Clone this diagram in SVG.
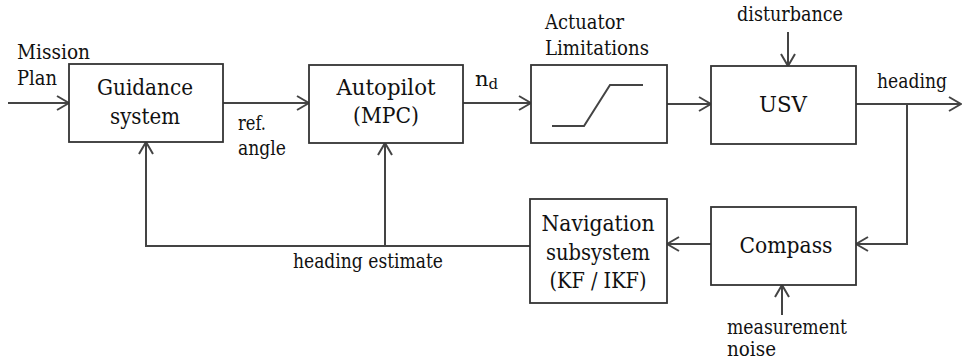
<svg xmlns="http://www.w3.org/2000/svg" width="963" height="363" viewBox="0 0 963 363">
<style>
.box{fill:#fff;stroke:#333;stroke-width:1.8}
.ln{fill:none;stroke:#444;stroke-width:2}
.bt{font-family:"DejaVu Serif","Liberation Serif",serif;font-size:23px;fill:#111;text-anchor:middle}
.lb{font-family:"DejaVu Serif","Liberation Serif",serif;font-size:21px;fill:#111}
.nz{font-size:20px}
</style>
<defs>
<marker id="ah" viewBox="0 0 14 16" refX="13" refY="8" markerWidth="14" markerHeight="16" markerUnits="userSpaceOnUse" orient="auto">
<path d="M1,1 L13,8 L1,15" fill="none" stroke="#444" stroke-width="2"/>
</marker>
</defs>
<rect width="963" height="363" fill="#fff"/>
<g id="connectors">
<path class="ln" d="M8,103 H69" marker-end="url(#ah)"/>
<path class="ln" d="M223,103 H309" marker-end="url(#ah)"/>
<path class="ln" d="M463,103 H531" marker-end="url(#ah)"/>
<path class="ln" d="M667,104 H711" marker-end="url(#ah)"/>
<path class="ln" d="M856,104 H961" marker-end="url(#ah)"/>
<path class="ln" d="M907,104 V244 H856" marker-end="url(#ah)"/>
<path class="ln" d="M711,244 H667" marker-end="url(#ah)"/>
<path class="ln" d="M530,246 H146 V142" marker-end="url(#ah)"/>
<path class="ln" d="M385,246 V143" marker-end="url(#ah)"/>
<path class="ln" d="M788,32 V66" marker-end="url(#ah)"/>
<path class="ln" d="M782,315 V285" marker-end="url(#ah)"/>
</g>
<g id="guidance">
<rect class="box" x="69" y="64" width="154" height="78"/>
<text class="bt" x="145" y="95" textLength="96" lengthAdjust="spacingAndGlyphs">Guidance</text>
<text class="bt" x="145" y="124" textLength="70" lengthAdjust="spacingAndGlyphs">system</text>
</g>
<g id="autopilot">
<rect class="box" x="309" y="65" width="154" height="78"/>
<text class="bt" x="386" y="95" textLength="99" lengthAdjust="spacingAndGlyphs">Autopilot</text>
<text class="bt" x="386" y="123" textLength="66" lengthAdjust="spacingAndGlyphs">(MPC)</text>
</g>
<g id="actuator">
<rect class="box" x="531" y="65" width="136" height="78"/>
<polyline class="ln" points="552,126 584,126 610,85 643,85"/>
</g>
<g id="usv">
<rect class="box" x="711" y="66" width="145" height="78"/>
<text class="bt" x="783" y="112" textLength="48" lengthAdjust="spacingAndGlyphs">USV</text>
</g>
<g id="navigation">
<rect class="box" x="530" y="199" width="137" height="104"/>
<text class="bt" x="598" y="231" textLength="113" lengthAdjust="spacingAndGlyphs">Navigation</text>
<text class="bt" x="598" y="260" textLength="104" lengthAdjust="spacingAndGlyphs">subsystem</text>
<text class="bt" x="598" y="288" textLength="97" lengthAdjust="spacingAndGlyphs">(KF / IKF)</text>
</g>
<g id="compass">
<rect class="box" x="711" y="207" width="145" height="78"/>
<text class="bt" x="786" y="253" textLength="93" lengthAdjust="spacingAndGlyphs">Compass</text>
</g>
<g id="labels">
<text class="lb" x="17" y="59" textLength="73" lengthAdjust="spacingAndGlyphs">Mission</text>
<text class="lb" x="17" y="85" textLength="40" lengthAdjust="spacingAndGlyphs">Plan</text>
<text class="lb" x="238" y="130" textLength="28" lengthAdjust="spacingAndGlyphs">ref.</text>
<text class="lb" x="238" y="155" textLength="48" lengthAdjust="spacingAndGlyphs">angle</text>
<text class="lb" x="475" y="86">n<tspan font-size="15" dy="3">d</tspan></text>
<text class="lb" x="545" y="29" textLength="79" lengthAdjust="spacingAndGlyphs">Actuator</text>
<text class="lb" x="545" y="55" textLength="104" lengthAdjust="spacingAndGlyphs">Limitations</text>
<text class="lb" x="790" y="21" text-anchor="middle" textLength="106" lengthAdjust="spacingAndGlyphs">disturbance</text>
<text class="lb" x="877" y="88" textLength="70" lengthAdjust="spacingAndGlyphs">heading</text>
<text class="lb" x="293" y="268" textLength="150" lengthAdjust="spacingAndGlyphs">heading estimate</text>
<text class="lb nz" x="727" y="334" textLength="120" lengthAdjust="spacingAndGlyphs">measurement</text>
<text class="lb nz" x="727" y="356" textLength="49" lengthAdjust="spacingAndGlyphs">noise</text>
</g>
</svg>
